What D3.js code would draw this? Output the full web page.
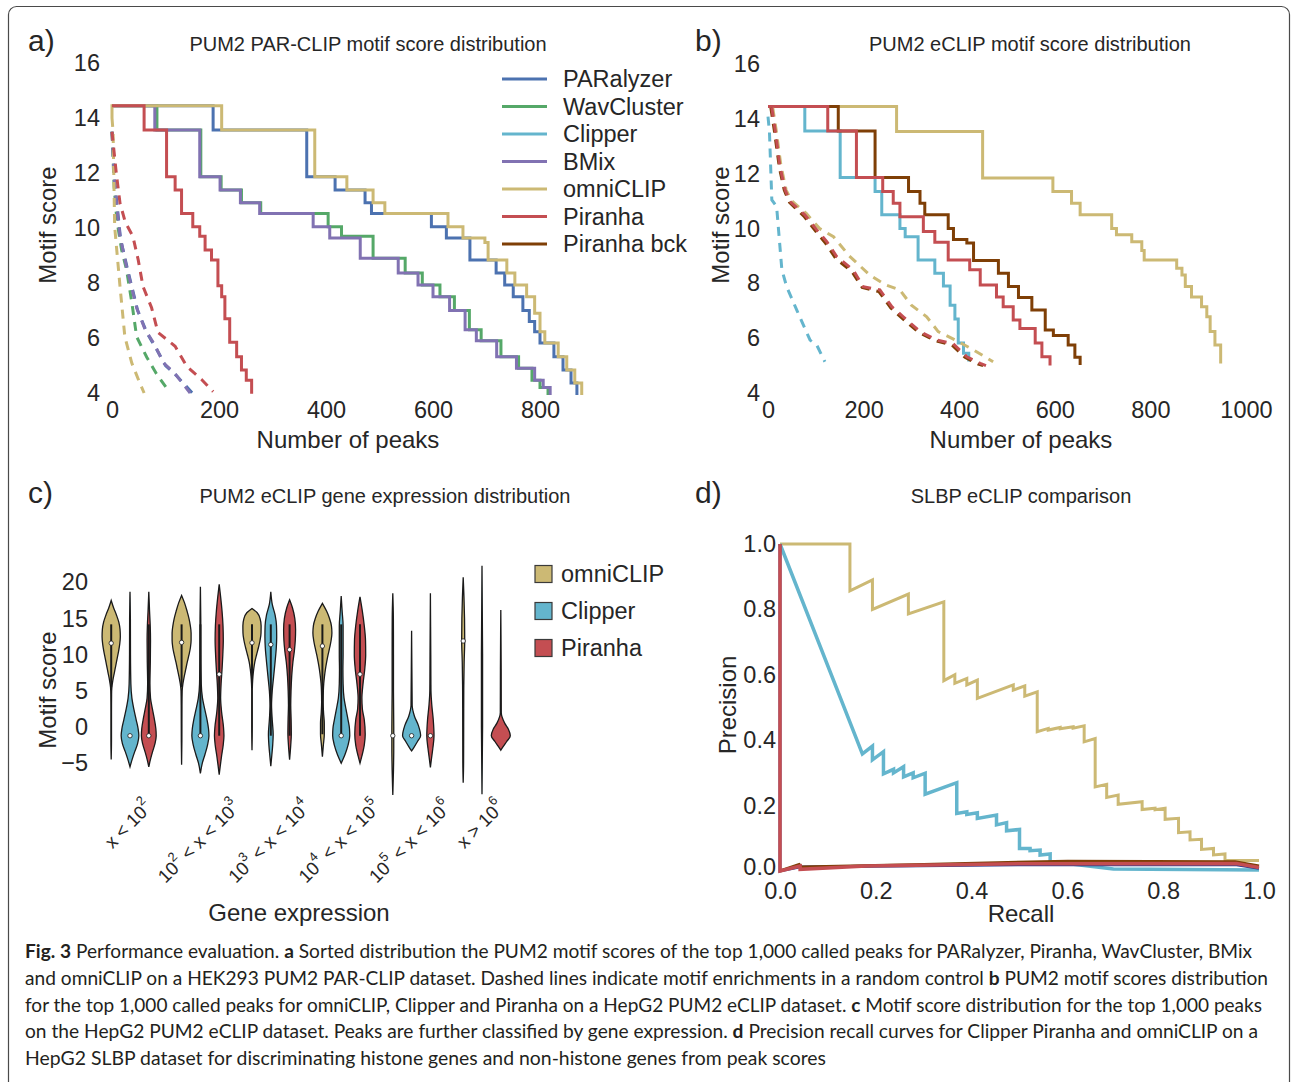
<!DOCTYPE html>
<html>
<head>
<meta charset="utf-8">
<script src="https://cdn.jsdelivr.net/npm/d3@7"></script>
<style>
  body { margin: 0; background: #fff; }
  svg text { font-family: "Liberation Sans", Arial, sans-serif; fill: #262626; }
  .cap text { font-family: Lato, "Open Sans", sans-serif; fill: #231f20; white-space: pre; }
</style>
</head>
<body>
<svg id="fig" width="1294" height="1082"></svg>
<script>
// ---- colours per method (seaborn deep) ----
const COLORS = {
    'PARalyzer': '#4C72B0', 'WavCluster': '#55A868', 'Clipper': '#64B5CD',
    'BMix': '#8172B2', 'omniCLIP': '#CCB974', 'Piranha': '#C44E52',
    'Piranha bck': '#7f3f06', 'other': '#2b3990'
};

// ---- panel a: PAR-CLIP sorted motif scores [peaks, score] ----
const aXTicks = [0, 200, 400, 600, 800];
const scoreTicks = [4, 6, 8, 10, 12, 14, 16];
const legendA = ['PARalyzer', 'WavCluster', 'Clipper', 'BMix', 'omniCLIP', 'Piranha', 'Piranha bck'];

const paralyzerA = [[0,14.45],[189,13.56],[364,11.86],[417,11.38],[473,10.92],[485,10.53],[597,10.05],[625,9.64],[669,8.84],[718,8.36],[734,7.93],[750,7.5],[768,7.0],[780,6.6],[790,6.23],[800,5.82],[826,5.32],[843,4.84],[858,4.36],[869,3.93]];
const wavclusterA = [[0,14.45],[84,13.56],[166,11.86],[204,11.38],[242,10.92],[278,10.53],[404,10.05],[429,9.7],[488,8.9],[548,8.36],[580,7.93],[613,7.5],[640,7.0],[668,6.3],[690,5.9],[727,5.32],[760,4.9],[785,4.46],[800,4.2],[815,3.93]];
const bmixA = [[0,14.45],[80,13.56],[164,11.86],[202,11.38],[240,10.92],[276,10.53],[376,10.05],[407,9.64],[464,8.9],[535,8.36],[572,7.93],[600,7.5],[631,7.0],[660,6.3],[681,5.9],[719,5.32],[756,4.9],[790,4.46],[806,4.2],[819,3.93]];
const omniclipA = [[0,14.0],[0,14.45],[205,13.56],[379,11.86],[439,11.38],[488,10.92],[510,10.53],[628,10.05],[656,9.64],[697,9.47],[703,8.84],[738,8.36],[753,7.93],[775,7.5],[790,6.9],[800,6.23],[809,5.82],[834,5.32],[850,4.84],[865,4.36],[878,3.93]];
const piranhaA = [[0,14.45],[60,13.56],[102,11.86],[118,11.38],[130,10.53],[151,10.05],[164,9.7],[174,9.2],[186,8.84],[198,7.9],[205,7.5],[211,6.7],[220,5.85],[233,5.32],[242,4.84],[251,4.46],[261,3.97]];

// random controls (dashed)
const paralyzerDashA = [[0,13.5],[6,11.5],[16,9.6],[29,8.5],[48,7.0],[65,6.2],[83,5.6],[100,5.0],[122,4.6],[150,4.0]];
const wavclusterDashA = [[0,13.5],[4,11.5],[9,10.3],[18,9.2],[27,8.5],[37,7.3],[46,6.05],[65,5.3],[83,4.7],[105,4.1]];
const bmixDashA = [[0,13.5],[5,11.5],[15,9.7],[27,8.6],[46,7.1],[62,6.3],[80,5.75],[96,5.1],[118,4.7],[146,4.0]];
const omniclipDashA = [[0,14.0],[2,13.5],[5,10.05],[15,7.87],[24,6.05],[37,5.09],[52,4.36],[60,4.0]];
const piranhaDashA = [[0,13.5],[8,12.0],[15,10.9],[25,10.2],[39,9.7],[49,8.84],[58,7.87],[74,7.1],[86,6.2],[118,5.7],[140,4.96],[167,4.5],[189,4.05]];

// ---- panel b: eCLIP sorted motif scores ----
const bXTicks = [0, 200, 400, 600, 800, 1000];
const omniclipB = [[0,14.45],[269,13.54],[449,11.84],[596,11.35],[635,10.92],[653,10.5],[719,10.0],[729,9.77],[761,9.52],[782,9.2],[787,8.85],[855,8.55],[866,8.3],[873,7.88],[886,7.5],[907,7.15],[918,6.78],[925,6.24],[935,5.75],[947,5.08]];
const clipperB = [[0,14.45],[77,13.56],[151,11.86],[224,11.35],[238,10.5],[276,10.0],[287,9.7],[314,8.85],[349,8.37],[367,7.9],[381,7.2],[391,6.7],[398,5.82],[409,5.45],[420,5.15]];
const piranhaB = [[0,14.45],[125,13.56],[185,11.86],[240,11.35],[262,10.92],[276,10.43],[325,9.89],[349,9.5],[377,8.85],[422,8.5],[444,7.94],[478,7.5],[492,7.15],[513,6.66],[527,6.35],[559,5.82],[573,5.32],[590,5.0]];
const piranhaBckB = [[0,14.45],[147,13.56],[224,11.86],[294,11.35],[318,10.92],[328,10.5],[377,10.0],[388,9.6],[416,9.47],[430,8.83],[482,8.37],[503,7.88],[524,7.48],[552,7.03],[580,6.3],[597,6.1],[628,5.75],[642,5.3],[653,5.02]];

const omniclipDashB = [[10,14.4],[17,13.6],[27,12.3],[38,11.4],[50,11.0],[80,10.55],[108,10.0],[137,9.7],[170,9.0],[213,8.3],[245,7.95],[276,7.76],[300,7.2],[332,6.78],[356,6.24],[390,5.95],[430,5.57],[471,5.14]];
const clipperDashB = [[0,14.08],[3,13.54],[8,11.04],[18,10.8],[29,8.5],[39,7.88],[60,7.03],[88,5.93],[102,5.75],[119,5.14]];
const piranhaBckDashB = [[6,14.4],[13,13.6],[24,12.2],[34,11.4],[45,10.95],[75,10.45],[100,9.9],[121,9.45],[142,8.9],[176,8.42],[197,7.85],[232,7.7],[257,7.1],[281,6.72],[316,6.2],[351,5.9],[385,5.75],[412,5.3],[440,5.05],[450,5.0]];
const piranhaDashB = [[8,14.4],[15,13.6],[25,12.26],[36,11.4],[46,10.98],[77,10.5],[102,9.95],[123,9.52],[144,8.97],[178,8.49],[199,7.88],[234,7.76],[259,7.15],[283,6.78],[318,6.24],[353,5.93],[387,5.8],[416,5.32],[444,5.08],[456,5.0]];

// ---- panel c: violins by gene expression class ----
const cCats = ['x < 10^2', '10^2 < x < 10^3', '10^3 < x < 10^4', '10^4 < x < 10^5', '10^5 < x < 10^6', 'x > 10^6'];
const cHues = ['omniCLIP', 'Clipper', 'Piranha'];
const cYTicks = [-5, 0, 5, 10, 15, 20];
// profile: [motif score, relative density]
const cViolins = [
    {cat: 0, hue: 'omniCLIP', median: 11.6, q1: 5.5, q3: 14.2, profile: [[17.5,0],[16.5,0.25],[15.5,0.55],[14.5,0.8],[13.5,0.93],[12.5,0.96],[11.5,0.9],[10.5,0.78],[9.5,0.63],[8.5,0.48],[7.5,0.33],[6.5,0.18],[5.5,0.07],[4.5,0.04],[2,0.03],[-2,0.03],[-4.5,0]]},
    {cat: 0, hue: 'Clipper', median: -1.2, q1: -1.2, q3: -1.2, profile: [[18.7,0],[15,0.04],[10,0.05],[6,0.09],[4,0.2],[2.5,0.4],[1,0.65],[-0.2,0.85],[-1.2,0.93],[-2.3,0.8],[-3.4,0.5],[-4.5,0.22],[-5.5,0]]},
    {cat: 0, hue: 'Piranha', median: -1.2, q1: -1.2, q3: 14.2, profile: [[18.7,0],[16,0.08],[14,0.15],[12,0.18],[9,0.16],[6,0.12],[4,0.18],[2.5,0.38],[1,0.6],[-0.2,0.74],[-1.2,0.78],[-2.3,0.65],[-3.4,0.4],[-4.5,0.17],[-5.5,0]]},
    {cat: 1, hue: 'omniCLIP', median: 11.7, q1: 5.5, q3: 14.2, profile: [[18.2,0],[17.2,0.3],[16,0.58],[15,0.78],[14,0.92],[13,1.0],[12,1.0],[11,0.93],[10,0.78],[9,0.6],[8,0.44],[7,0.28],[6,0.14],[5,0.06],[3,0.04],[-2,0.03],[-5.2,0]]},
    {cat: 1, hue: 'Clipper', median: -1.2, q1: -1.2, q3: 14.2, profile: [[19.4,0],[15,0.04],[10,0.05],[6,0.09],[4,0.22],[2.5,0.45],[1,0.7],[-0.2,0.85],[-1.2,0.9],[-2.5,0.75],[-3.8,0.48],[-5,0.2],[-6.4,0]]},
    {cat: 1, hue: 'Piranha', median: 7.3, q1: -1.2, q3: 14.2, profile: [[19.75,0],[18,0.15],[16,0.3],[14,0.4],[12,0.43],[10,0.38],[8,0.3],[6,0.2],[4,0.15],[2,0.26],[0,0.45],[-1.2,0.5],[-2.5,0.42],[-4,0.25],[-5.5,0.1],[-6.6,0]]},
    {cat: 2, hue: 'omniCLIP', median: 11.65, q1: 5.5, q3: 14.2, profile: [[16.4,0],[15.8,0.55],[15,0.85],[14,0.96],[13,0.95],[12,0.85],[11,0.68],[10,0.48],[9,0.3],[8,0.18],[7,0.1],[6,0.05],[5,0.03],[0,0.03],[-3.2,0]]},
    {cat: 2, hue: 'Clipper', median: 11.4, q1: -1.2, q3: 14.2, profile: [[18.7,0],[17,0.15],[15.5,0.45],[14,0.6],[12.5,0.62],[11,0.58],[9,0.45],[7,0.3],[5,0.15],[3,0.08],[1,0.15],[-1,0.25],[-2.5,0.2],[-4,0.1],[-5.4,0]]},
    {cat: 2, hue: 'Piranha', median: 10.7, q1: -1.2, q3: 14.2, profile: [[17.6,0],[16.5,0.3],[15,0.55],[13.5,0.63],[12,0.6],[10.5,0.5],[9,0.35],[7,0.22],[5,0.15],[3,0.12],[1,0.16],[-1,0.18],[-2.5,0.12],[-4.5,0]]},
    {cat: 3, hue: 'omniCLIP', median: 11.2, q1: -1, q3: 14.2, profile: [[17.1,0],[16,0.45],[15,0.75],[14,0.95],[13,1.0],[12,0.92],[11,0.77],[10,0.6],[9,0.45],[8,0.32],[7,0.22],[6,0.14],[5,0.1],[3.5,0.08],[2,0.12],[0.5,0.2],[-1,0.2],[-2.5,0.1],[-4.1,0]]},
    {cat: 3, hue: 'Clipper', median: -1.2, q1: -1.2, q3: 14.2, profile: [[18.1,0],[16,0.1],[14,0.2],[12,0.2],[10,0.2],[8,0.18],[6,0.2],[4,0.3],[2.5,0.5],[1,0.72],[-0.2,0.87],[-1.2,0.9],[-2.5,0.72],[-3.8,0.4],[-5,0]]},
    {cat: 3, hue: 'Piranha', median: 7.3, q1: -1.2, q3: 14.2, profile: [[18,0],[16,0.25],[14,0.45],[12,0.58],[10,0.6],[8,0.5],[6,0.32],[4,0.2],[2.5,0.25],[1,0.45],[-1,0.55],[-2.5,0.45],[-4,0.2],[-5,0]]},
    {cat: 4, hue: 'omniCLIP', median: -1.2, q1: -1.2, q3: -1.2, profile: [[18.5,0],[15,0.06],[10,0.07],[5,0.07],[0,0.1],[-3,0.1],[-6,0.07],[-9.4,0]]},
    {cat: 4, hue: 'Clipper', median: -1.2, q1: -1.2, q3: -1.2, profile: [[13.3,0],[8,0.03],[3,0.06],[1.5,0.3],[0.2,0.72],[-1.2,0.95],[-2,0.62],[-2.8,0.25],[-3.3,0]]},
    {cat: 4, hue: 'Piranha', median: -1.2, q1: -1.2, q3: -1.2, profile: [[18.5,0],[10,0.04],[5,0.06],[3,0.15],[1,0.3],[-1.2,0.38],[-3,0.25],[-4.5,0.1],[-5.6,0]]},
    {cat: 5, hue: 'omniCLIP', median: 11.9, q1: 11.9, q3: 11.9, profile: [[20.7,0],[18,0.08],[15,0.14],[12,0.16],[9,0.1],[5,0.06],[0,0.05],[-5,0.04],[-7.7,0]]},
    {cat: 5, hue: 'Clipper', median: null, q1: null, q3: null, profile: [[22.3,0],[10,0.06],[0,0.06],[-9.3,0]]},
    {cat: 5, hue: 'Piranha', median: null, q1: null, q3: null, profile: [[16.2,0],[8,0.04],[2,0.05],[0.5,0.42],[-0.3,0.8],[-1.2,1.0],[-2,0.62],[-2.6,0.3],[-3.2,0]]}
];

// ---- panel d: precision / recall [recall, precision] ----
const prTicks = [0, 0.2, 0.4, 0.6, 0.8, 1.0];
const omniclipPR = [[0,1],[0.146,1],[0.146,0.857],[0.193,0.89],[0.193,0.80],[0.268,0.847],[0.268,0.786],[0.342,0.823],[0.342,0.582],[0.365,0.6],[0.365,0.574],[0.39,0.589],[0.39,0.569],[0.412,0.584],[0.412,0.528],[0.487,0.569],[0.487,0.553],[0.511,0.566],[0.511,0.535],[0.537,0.548],[0.537,0.426],[0.56,0.436],[0.56,0.431],[0.585,0.439],[0.585,0.435],[0.612,0.441],[0.612,0.437],[0.635,0.444],[0.635,0.395],[0.658,0.405],[0.658,0.257],[0.682,0.265],[0.682,0.225],[0.706,0.232],[0.706,0.204],[0.756,0.212],[0.756,0.188],[0.783,0.192],[0.783,0.187],[0.804,0.192],[0.804,0.158],[0.832,0.161],[0.832,0.117],[0.856,0.12],[0.856,0.095],[0.88,0.097],[0.88,0.066],[0.905,0.069],[0.905,0.049],[0.929,0.052],[0.929,0.032],[1.0,0.032]];
const clipperPR = [[0,1],[0.172,0.358],[0.193,0.382],[0.193,0.34],[0.216,0.365],[0.216,0.297],[0.237,0.311],[0.237,0.3],[0.258,0.319],[0.258,0.288],[0.278,0.3],[0.278,0.285],[0.303,0.299],[0.303,0.235],[0.369,0.27],[0.369,0.176],[0.39,0.181],[0.39,0.173],[0.412,0.178],[0.412,0.161],[0.452,0.171],[0.452,0.141],[0.473,0.148],[0.473,0.123],[0.5,0.127],[0.5,0.069],[0.522,0.069],[0.522,0.062],[0.543,0.064],[0.543,0.049],[0.564,0.052],[0.564,0.029],[0.626,0.018],[0.696,0.006],[1.0,0.003]];
const otherPR = [[0,1],[0,0],[0.04,0.012],[0.5,0.019],[0.95,0.02],[1.0,0.008]];
const piranhaBckPR = [[0,0],[0.04,0.02],[0.045,0.012],[0.3,0.02],[0.6,0.03],[0.95,0.028],[1.0,0.015]];
const piranhaPR = [[0,1],[0,0],[0.042,0.015],[0.042,0.005],[0.18,0.015],[0.5,0.022],[0.953,0.023],[1.0,0.011]];

// ---- caption ----
const captionLines = [
    [['Fig. 3', 1], [' Performance evaluation. ', 0], ['a', 1], [' Sorted distribution the PUM2 motif scores of the top 1,000 called peaks for PARalyzer, Piranha, WavCluster, BMix', 0]],
    [['and omniCLIP on a HEK293 PUM2 PAR-CLIP dataset. Dashed lines indicate motif enrichments in a random control ', 0], ['b', 1], [' PUM2 motif scores distribution', 0]],
    [['for the top 1,000 called peaks for omniCLIP, Clipper and Piranha on a HepG2 PUM2 eCLIP dataset. ', 0], ['c', 1], [' Motif score distribution for the top 1,000 peaks', 0]],
    [['on the HepG2 PUM2 eCLIP dataset. Peaks are further classified by gene expression. ', 0], ['d', 1], [' Precision recall curves for Clipper Piranha and omniCLIP on a', 0]],
    [['HepG2 SLBP dataset for discriminating histone genes and non-histone genes from peak scores', 0]]
];
const captionWidths = [1227, 1243, 1237, 1233, 801];

const TICK = 23.5, LABEL = 24, TITLE = 20, LEGEND = 23.5, LETTER = 30;

const svg = d3.select('#fig');

// outer frame
svg.append('rect')
    .attr('x', 8.5).attr('y', 6.5).attr('width', 1281).attr('height', 1100).attr('rx', 8)
    .attr('fill', 'none').attr('stroke', '#4a4a4a').attr('stroke-width', 1.2);

function addText(x, y, txt, size, anchor) {
    return svg.append('text')
        .attr('x', x).attr('y', y)
        .attr('font-size', size)
        .attr('text-anchor', anchor || 'start')
        .text(txt);
}

function addYLabel(x, y, txt) {
    svg.append('text')
        .attr('transform', `translate(${x},${y}) rotate(-90)`)
        .attr('text-anchor', 'middle')
        .attr('font-size', LABEL)
        .text(txt);
}

function styleAxis(g) {
    g.select('.domain').remove();
    g.attr('font-family', null);
    g.selectAll('text').attr('font-size', TICK);
}

// ================= panel a =================
const xA = d3.scaleLinear().domain([0, 880]).range([112, 582.8]);
const yA = d3.scaleLinear().domain([4, 16]).range([393, 63]);

svg.append('g').attr('transform', 'translate(0,393)')
    .call(d3.axisBottom(xA).tickValues(aXTicks).tickFormat(d3.format('d')).tickSize(0).tickPadding(8))
    .call(styleAxis);
svg.append('g').attr('transform', 'translate(112,0)')
    .call(d3.axisLeft(yA).tickValues(scoreTicks).tickSize(0).tickPadding(12))
    .call(styleAxis);

const stepA = d3.line().x(d => xA(d[0])).y(d => yA(d[1])).curve(d3.curveStepAfter);
const lineA = d3.line().x(d => xA(d[0])).y(d => yA(d[1]));

const seriesA = [
    ['PARalyzer', paralyzerA, paralyzerDashA],
    ['WavCluster', wavclusterA, wavclusterDashA],
    ['BMix', bmixA, bmixDashA],
    ['omniCLIP', omniclipA, omniclipDashA],
    ['Piranha', piranhaA, piranhaDashA]
];
const gA = svg.append('g');
seriesA.forEach(([name, solid, dashed]) => {
    gA.append('path').attr('d', stepA(solid))
        .attr('fill', 'none').attr('stroke', COLORS[name]).attr('stroke-width', 3);
    gA.append('path').attr('d', lineA(dashed))
        .attr('fill', 'none').attr('stroke', COLORS[name]).attr('stroke-width', 3)
        .attr('stroke-dasharray', '9,7');
});

addText(28, 51, 'a)', LETTER);
addText(368, 51, 'PUM2 PAR-CLIP motif score distribution', TITLE, 'middle');
addText(348, 448, 'Number of peaks', LABEL, 'middle');
addYLabel(56, 225, 'Motif score');

// legend a
const legA = svg.append('g').selectAll('g').data(legendA).join('g')
    .attr('transform', (d, i) => `translate(502,${79 + i * 27.5})`);
legA.append('line').attr('x1', 0).attr('x2', 45)
    .attr('stroke', d => COLORS[d]).attr('stroke-width', 3);
legA.append('text').attr('x', 61).attr('y', 0).attr('dy', '0.35em')
    .attr('font-size', LEGEND).text(d => d);

// ================= panel b =================
const xB = d3.scaleLinear().domain([0, 1000]).range([768, 1246]);
const yB = d3.scaleLinear().domain([4, 16]).range([393, 64]);

svg.append('g').attr('transform', 'translate(0,393)')
    .call(d3.axisBottom(xB).tickValues(bXTicks).tickFormat(d3.format('d')).tickSize(0).tickPadding(8))
    .call(styleAxis);
svg.append('g').attr('transform', 'translate(768,0)')
    .call(d3.axisLeft(yB).tickValues(scoreTicks).tickSize(0).tickPadding(8))
    .call(styleAxis);

const stepB = d3.line().x(d => xB(d[0])).y(d => yB(d[1])).curve(d3.curveStepAfter);
const lineB = d3.line().x(d => xB(d[0])).y(d => yB(d[1]));

const seriesB = [
    ['omniCLIP', omniclipB, omniclipDashB],
    ['Clipper', clipperB, clipperDashB],
    ['Piranha bck', piranhaBckB, piranhaBckDashB],
    ['Piranha', piranhaB, piranhaDashB]
];
const gB = svg.append('g');
seriesB.forEach(([name, solid]) => {
    gB.append('path').attr('d', stepB(solid))
        .attr('fill', 'none').attr('stroke', COLORS[name]).attr('stroke-width', 3);
});
seriesB.forEach(([name, solid, dashed]) => {
    gB.append('path').attr('d', lineB(dashed))
        .attr('fill', 'none').attr('stroke', COLORS[name]).attr('stroke-width', 3)
        .attr('stroke-dasharray', '9,7');
});

addText(695, 51, 'b)', LETTER);
addText(1030, 51, 'PUM2 eCLIP motif score distribution', TITLE, 'middle');
addText(1021, 448, 'Number of peaks', LABEL, 'middle');
addYLabel(729, 225, 'Motif score');

// ================= panel c =================
const xC = d3.scaleBand().domain(d3.range(cCats.length)).range([94.8, 517.2]);
const hueC = d3.scaleBand().domain(cHues).range([-28.2, 28.2]);
const yC = d3.scaleLinear().domain([-5, 20]).range([763.2, 582.4]);
const wC = d3.scaleLinear().domain([0, 1]).range([0, 9.5]);

svg.append('g').attr('transform', 'translate(96,0)')
    .call(d3.axisLeft(yC).tickValues(cYTicks).tickSize(0).tickPadding(8))
    .call(styleAxis);

const gC = svg.append('g');
cViolins.forEach(v => {
    const cx = xC(v.cat) + xC.bandwidth() / 2 + hueC(v.hue) + hueC.bandwidth() / 2;
    const area = d3.area()
        .y(d => yC(d[0]))
        .x0(d => cx - wC(d[1]))
        .x1(d => cx + wC(d[1]))
        .curve(d3.curveMonotoneY);
    gC.append('path').attr('d', area(v.profile))
        .attr('fill', COLORS[v.hue]).attr('stroke', '#1a1a1a').attr('stroke-width', 1.3);
    if (v.q1 !== null && v.q3 !== v.q1) {
        gC.append('line').attr('x1', cx).attr('x2', cx)
            .attr('y1', yC(v.q3)).attr('y2', yC(v.q1))
            .attr('stroke', '#1a1a1a').attr('stroke-width', 2);
    }
    if (v.median !== null) {
        gC.append('circle').attr('cx', cx).attr('cy', yC(v.median)).attr('r', 2.2)
            .attr('fill', '#fff').attr('stroke', '#1a1a1a').attr('stroke-width', 0.8);
    }
});

// rotated category labels with superscripts
cCats.forEach((lab, i) => {
    const cx = xC(i) + xC.bandwidth() / 2;
    const t = svg.append('text').attr('font-size', 18.5).attr('text-anchor', 'middle')
        .attr('dominant-baseline', 'central');
    const parts = lab.split(/\^(\d)/);
    parts.forEach((p, k) => {
        if (p === '') return;
        const sp = t.append('tspan').text(p);
        if (k % 2 === 1) sp.attr('font-size', 13).attr('dy', -8);
        else if (k > 0) sp.attr('dy', 8);
    });
    const L = t.node().getComputedTextLength();
    const cy = 797 + (L + 18) * 0.7071 / 2;
    t.attr('transform', `translate(${cx - 2},${cy}) rotate(-45)`);
});

addText(28, 503, 'c)', LETTER);
addText(385, 503, 'PUM2 eCLIP gene expression distribution', TITLE, 'middle');
addText(299, 921, 'Gene expression', LABEL, 'middle');
addYLabel(56, 690, 'Motif score');

// legend c
const legC = svg.append('g').selectAll('g').data(cHues).join('g')
    .attr('transform', (d, i) => `translate(535,${574 + i * 37})`);
legC.append('rect').attr('x', 0).attr('y', -8.5).attr('width', 17).attr('height', 17)
    .attr('fill', d => COLORS[d]).attr('stroke', '#3a3a3a').attr('stroke-width', 1.2);
legC.append('text').attr('x', 26).attr('y', 0).attr('dy', '0.35em')
    .attr('font-size', LEGEND).text(d => d);

// ================= panel d =================
const xD = d3.scaleLinear().domain([0, 1]).range([780, 1259]);
const yD = d3.scaleLinear().domain([0, 1]).range([871, 544]);

svg.append('g').attr('transform', 'translate(0,871)')
    .call(d3.axisBottom(xD).tickValues(prTicks).tickFormat(d3.format('.1f')).tickSize(0).tickPadding(11))
    .call(styleAxis);
svg.append('g').attr('transform', 'translate(780,0)')
    .call(d3.axisLeft(yD).tickValues(prTicks).tickFormat(d3.format('.1f')).tickSize(0).tickPadding(4))
    .call(styleAxis)
    // lift the corner 0.0 a little so it does not collide with the x-axis 0.0
    .call(g => g.selectAll('.tick').filter(d => d === 0).select('text').attr('y', -4));

const lineD = d3.line().x(d => xD(d[0])).y(d => yD(d[1]));
const seriesD = [
    ['omniCLIP', omniclipPR, 3],
    ['Clipper', clipperPR, 3.5],
    ['other', otherPR, 3],
    ['Piranha bck', piranhaBckPR, 3],
    ['Piranha', piranhaPR, 3.5]
];
const gD = svg.append('g');
seriesD.forEach(([name, pts, w]) => {
    gD.append('path').attr('d', lineD(pts))
        .attr('fill', 'none').attr('stroke', COLORS[name]).attr('stroke-width', w)
        .attr('stroke-linejoin', 'miter');
});

addText(695, 503, 'd)', LETTER);
addText(1021, 503, 'SLBP eCLIP comparison', TITLE, 'middle');
addText(1021, 922, 'Recall', LABEL, 'middle');
addYLabel(736, 705, 'Precision');

// ================= caption =================
const cap = svg.append('g').attr('class', 'cap');
const probe = cap.append('text').attr('font-size', 20).text(captionLines[4][0][0]);
const capSize = 0.95 * 20 * 801 / probe.node().getComputedTextLength();
probe.remove();

captionLines.forEach((line, i) => {
    const t = cap.append('text').attr('x', 25).attr('y', 958 + i * 26.8)
        .attr('font-size', capSize);
    t.selectAll('tspan').data(line).join('tspan')
        .attr('font-weight', d => d[1] ? 700 : 400)
        .text(d => d[0]);
    t.attr('textLength', captionWidths[i]).attr('lengthAdjust', 'spacingAndGlyphs');
});
</script>
</body>
</html>
